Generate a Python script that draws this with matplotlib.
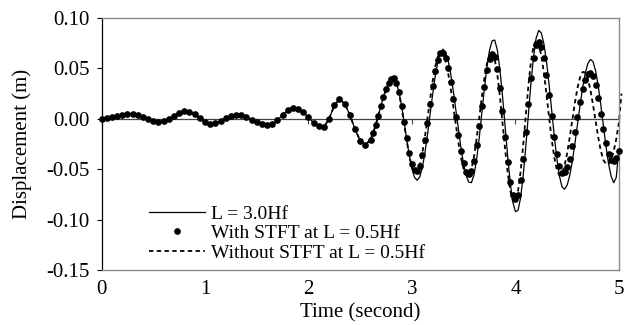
import numpy as np
import matplotlib
matplotlib.use("Agg")
import matplotlib.pyplot as plt
from matplotlib.ticker import FormatStrFormatter

plt.rcParams['font.family'] = ['Liberation Serif', 'DejaVu Serif']
plt.rcParams['font.size'] = 15
plt.rcParams['axes.unicode_minus'] = False

# ----------------- Data ----------------- #
# sample times: 0.05 s steps up to 2.6 s, then 0.025 s steps
time_s = np.round(np.concatenate([np.arange(0, 2.6001, 0.05),
                                  np.arange(2.625, 5.0251, 0.025)]), 3)

# first part (0 - 2.85 s) where all three runs overlap
early_disp = [
    0.0000, 0.0004, 0.0014, 0.0028, 0.0041, 0.0049, 0.0049, 0.0038, 0.0019, -0.0003,
    -0.0021, -0.0030, -0.0024, -0.0002, 0.0029, 0.0057, 0.0073, 0.0070, 0.0044, 0.0004,
    -0.0032, -0.0049, -0.0044, -0.0022, 0.0007, 0.0031, 0.0040, 0.0033, 0.0015, -0.0010,
    -0.0036, -0.0056, -0.0065, -0.0054, -0.0015, 0.0039, 0.0086, 0.0109, 0.0101, 0.0066,
    0.0014, -0.0039, -0.0072, -0.0081, 0.0002, 0.0133, 0.0195, 0.0151, 0.0038, -0.0103,
    -0.0217, -0.0260, -0.0206,
    -0.0142, -0.0061, 0.0032, 0.0127, 0.0218, 0.0297, 0.0356, 0.0391, 0.0400, 0.0358,
]

# L = 3.0Hf, from 2.875 s
full_late = [
    0.0264, 0.0127, -0.0036, -0.0208, -0.0367, -0.0497, -0.0581, -0.0610,
    -0.0578, -0.0486, -0.0342, -0.0161, 0.0040, 0.0241, 0.0422, 0.0566, 0.0658, 0.0690,
    0.0661, 0.0576, 0.0444, 0.0274, 0.0084, -0.0112, -0.0296, -0.0452, -0.0566, -0.0629,
    -0.0633, -0.0556, -0.0403, -0.0192, 0.0050, 0.0296, 0.0515, 0.0681, 0.0774,
    0.0781, 0.0685, 0.0493, 0.0231, -0.0070, -0.0371, -0.0633, -0.0825, -0.0921,
    -0.0909, -0.0786, -0.0566, -0.0280, 0.0039, 0.0351, 0.0615, 0.0799, 0.0877,
    0.0853, 0.0746, 0.0571, 0.0344, 0.0090, -0.0164, -0.0391, -0.0566, -0.0673,
    -0.0699, -0.0658, -0.0563, -0.0421, -0.0247, -0.0055, 0.0137, 0.0311, 0.0453, 0.0548, 0.0589,
    0.0567, 0.0477, 0.0330, 0.0140, -0.0067, -0.0270, -0.0445, -0.0570, -0.0634,
    -0.0580, -0.0300, np.nan,
]

# with STFT at L = 0.5Hf, from 2.875 s
stft_late = [
    0.0265, 0.0131, -0.0027, -0.0190, -0.0335, -0.0447, -0.0509, -0.0515,
    -0.0464, -0.0360, -0.0214, -0.0040, 0.0144, 0.0321, 0.0474, 0.0587, 0.0649, 0.0656,
    0.0607, 0.0508, 0.0368, 0.0200, 0.0019, -0.0160, -0.0318, -0.0443, -0.0523, -0.0550,
    -0.0516, -0.0417, -0.0264, -0.0076, 0.0126, 0.0319, 0.0480, 0.0591, 0.0639,
    0.0611, 0.0497, 0.0310, 0.0073, -0.0182, -0.0425, -0.0625, -0.0755, -0.0800,
    -0.0751, -0.0610, -0.0394, -0.0131, 0.0145, 0.0402, 0.0604, 0.0728, 0.0759,
    0.0711, 0.0599, 0.0435, 0.0237, 0.0025, -0.0177, -0.0350, -0.0473, -0.0534,
    -0.0532, -0.0483, -0.0394, -0.0273, -0.0130, 0.0021, 0.0166, 0.0292, 0.0388, 0.0446, 0.0459,
    0.0420, 0.0331, 0.0203, 0.0051, -0.0104, -0.0243, -0.0350, -0.0410, -0.0418,
    -0.0390, -0.0320, np.nan,
]

# without STFT at L = 0.5Hf, from 2.875 s
nostft_late = [
    0.0256, 0.0114, -0.0053, -0.0221, -0.0370, -0.0479, -0.0535, -0.0529,
    -0.0463, -0.0343, -0.0183, 0.0002, 0.0193, 0.0371, 0.0517, 0.0616, 0.0659, 0.0642,
    0.0571, 0.0453, 0.0298, 0.0119, -0.0066, -0.0241, -0.0390, -0.0499, -0.0560, -0.0564,
    -0.0501, -0.0374, -0.0200, 0.0003, 0.0211, 0.0400, 0.0547, 0.0637, 0.0658,
    0.0593, 0.0442, 0.0224, -0.0032, -0.0295, -0.0531, -0.0712, -0.0813, -0.0821,
    -0.0722, -0.0527, -0.0262, 0.0035, 0.0324, 0.0565, 0.0724, 0.0780, 0.0741,
    0.0630, 0.0458, 0.0246, 0.0019, -0.0198, -0.0380, -0.0504, -0.0559, -0.0541,
    -0.0466, -0.0342, -0.0184, -0.0010, 0.0160, 0.0307, 0.0411, 0.0465, 0.0459, 0.0397, 0.0285,
    0.0140, -0.0023, -0.0181, -0.0315, -0.0409, -0.0445, -0.0450, -0.0410, -0.0320,
    -0.0200, -0.0040, 0.0250,
]

disp_full = np.array(early_disp + full_late)
disp_stft = np.array(early_disp + stft_late)
disp_nostft = np.array(early_disp + nostft_late)

labels = ["L = 3.0Hf", "With STFT at L = 0.5Hf", "Without STFT at L = 0.5Hf"]
x_ticks = [0, 1, 2, 3, 4, 5]
y_ticks = [-0.15, -0.10, -0.05, 0.00, 0.05, 0.10]

# ----------------- Plot ----------------- #
fig = plt.figure(figsize=(6.4, 3.25), dpi=100)
ax = fig.add_axes([0.1586, 0.1692, 0.8084, 0.7754])

ax.plot(time_s, disp_full, color='black', lw=0.9, zorder=2, label=labels[0])
ax.plot(time_s, disp_stft, linestyle='none', marker='o', ms=3.8, color='black',
        clip_on=False, zorder=3, label=labels[1])
ax.plot(time_s, disp_nostft, color='black', lw=1.3, dashes=(2.4, 1.9),
        clip_on=False, zorder=2.5, label=labels[2])

ax.set_xlim(0, 5)
ax.set_ylim(-0.15, 0.10)
ax.set_xticks(x_ticks)
ax.set_yticks(y_ticks)
ax.yaxis.set_major_formatter(FormatStrFormatter('%.2f'))
ax.tick_params(axis='x', length=0, pad=7)
ax.tick_params(axis='y', length=3.3, width=0.8, pad=5, direction='out')

for side in ('top', 'right', 'bottom'):
    ax.spines[side].set_color('#8a8a8a')
    ax.spines[side].set_linewidth(1.0)
ax.spines['left'].set_color('black')
ax.spines['left'].set_linewidth(0.9)

# x axis crossing at zero with its own small ticks
zero_axis = ax.secondary_xaxis(0.6)
zero_axis.set_xticks(x_ticks)
zero_axis.tick_params(direction='in', length=3.5, width=0.8, labeltop=False,
                      color='#444444')
zero_axis.spines['top'].set_color('#444444')
zero_axis.spines['top'].set_linewidth(0.9)

ax.set_xlabel("Time (second)", labelpad=3)
ax.set_ylabel("Displacement (m)")
ax.yaxis.set_label_coords(-0.135, 0.5)

ax.legend(loc='center left', bbox_to_anchor=(0.092, 0.145), frameon=False,
          borderpad=0, borderaxespad=0, handlelength=2.9, handletextpad=0.3,
          labelspacing=0.1, fontsize=14)

fig.savefig("out.png", dpi=100)
